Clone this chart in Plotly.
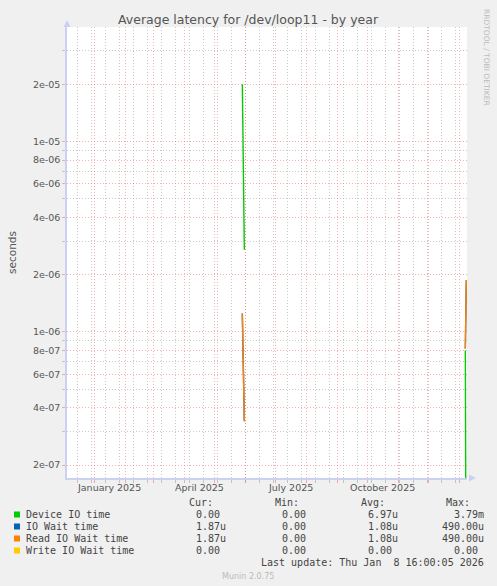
"""
Munin style "Average latency for /dev/loop11 - by year" chart drawn with Plotly.
"""
import pandas as pd
import plotly.graph_objs as go

# --- data ----------------------------------------------------------------
series_names = ["Device IO time", "IO Wait time", "Read IO Wait time", "Write IO Wait time"]
series_colors = ["#00CC00", "#0066B3", "#FF8000", "#FFCC00"]

sample_dates = ["2025-05-29", "2025-05-31", "2025-09-15", "2026-01-07", "2026-01-08"]
device_io = [2.0e-05, 2.7e-06, None, 8.0e-07, 0.0]
io_wait = [1.25e-06, 3.4e-07, None, 8.2e-07, 1.87e-06]
read_io_wait = [1.25e-06, 3.4e-07, None, 8.2e-07, 1.87e-06]
write_io_wait = [0.0, 0.0, None, 0.0, 0.0]

legend_cur = ["0.00", "1.87u", "1.87u", "0.00"]
legend_min = ["0.00", "0.00", "0.00", "0.00"]
legend_avg = ["6.97u", "1.08u", "1.08u", "0.00"]
legend_max = ["3.79m", "490.00u", "490.00u", "0.00"]

y_major = [2e-07, 4e-07, 6e-07, 8e-07, 1e-06, 2e-06, 4e-06, 6e-06, 8e-06, 1e-05, 2e-05]
y_major_text = ["2e-07", "4e-07", "6e-07", "8e-07", "1e-06", "2e-06",
                "4e-06", "6e-06", "8e-06", "1e-05", "2e-05"]
y_minor = [3e-07, 5e-07, 7e-07, 9e-07, 3e-06, 5e-06, 7e-06, 9e-06, 3e-05]

month_labels = ["January 2025", "April 2025", "July 2025", "October 2025"]
month_label_dates = ["2025-01-16", "2025-04-16", "2025-07-16", "2025-10-16"]

x_start, x_end = "2024-12-04 16:00", "2026-01-08 16:00"
y_low, y_high = -6.767, -4.398   # log10 range

# --- layout geometry (pixels) ----------------------------------------------
W, H = 497, 586
L, R, T, B = 67, 30, 27, 108
PW, PH = W - L - R, H - T - B


def px(x):
    """pixel x -> paper x"""
    return (x - L) / PW


def py(y):
    """pixel y -> paper y"""
    return (H - B - y) / PH


# values of 0 sit below the log axis, like rrdtool clips them at the bottom
floor = 10 ** (y_low - 1)


def clip(vals):
    return [None if v is None else (v if v > 0 else floor) for v in vals]


fig = go.Figure()

for name, color, vals in zip(series_names, series_colors,
                             [device_io, io_wait, read_io_wait, write_io_wait]):
    fig.add_trace(go.Scatter(x=pd.to_datetime(sample_dates), y=clip(vals), mode="lines",
                             name=name, line=dict(color=color, width=1.4),
                             connectgaps=False, showlegend=False, hoverinfo="skip"))

red_grid = "rgba(240,110,110,0.55)"
gray_grid = "rgba(150,150,150,0.5)"
dots = "1px,2px"
axis_col = "#CCD0F2"
text_col = "#555555"

fig.update_layout(
    width=W, height=H,
    margin=dict(l=L, r=R, t=T, b=B, pad=0),
    paper_bgcolor="#F0F0F0", plot_bgcolor="#FFFFFF",
    font=dict(family="DejaVu Sans", size=10, color=text_col),
    xaxis=dict(
        type="date", range=[x_start, x_end],
        tickmode="array",
        tickvals=pd.date_range("2025-01-01", "2026-01-01", freq="MS"),
        showticklabels=False,
        showgrid=True, gridcolor=red_grid, griddash=dots, gridwidth=1,
        ticks="outside", ticklen=3, tickcolor=red_grid,
        minor=dict(tickmode="array",
                   tickvals=pd.date_range("2024-12-15", "2026-01-08", freq="14D"),
                   showgrid=True, gridcolor=gray_grid, griddash=dots, gridwidth=1,
                   ticks="outside", ticklen=3, tickcolor=gray_grid),
        showline=True, linecolor=axis_col, linewidth=1.5,
        zeroline=False, fixedrange=True,
    ),
    yaxis=dict(
        type="log", range=[y_low, y_high],
        tickmode="array", tickvals=y_major, ticktext=y_major_text,
        tickfont=dict(size=9.5, color=text_col),
        showgrid=True, gridcolor=red_grid, griddash=dots, gridwidth=1,
        ticks="outside", ticklen=3, tickcolor=red_grid,
        minor=dict(tickmode="array", tickvals=y_minor,
                   showgrid=True, gridcolor=gray_grid, griddash=dots, gridwidth=1,
                   ticks="outside", ticklen=3, tickcolor=gray_grid),
        showline=True, linecolor=axis_col, linewidth=1.5,
        zeroline=False, fixedrange=True,
        title=dict(text="seconds", font=dict(size=10.5, color=text_col), standoff=14),
    ),
)

# axis arrows
fig.add_shape(type="path", xref="paper", yref="paper",
              path=f"M {px(63.5)} {py(27)} L {px(67)} {py(20)} L {px(70.5)} {py(27)} Z",
              fillcolor=axis_col, line=dict(width=0))
fig.add_shape(type="path", xref="paper", yref="paper",
              path=f"M {px(469)} {py(474.5)} L {px(476)} {py(478)} L {px(469)} {py(481.5)} Z",
              fillcolor=axis_col, line=dict(width=0))


def note(text, x, y, xanchor="center", font=None, **kw):
    """paper-positioned text given in pixel coordinates"""
    fig.add_annotation(text=text, xref="paper", yref="paper", x=px(x), y=py(y),
                       showarrow=False, xanchor=xanchor, yanchor="middle",
                       borderpad=0, borderwidth=0, font=font, **kw)


# title
note("Average latency for /dev/loop11 - by year", 248.5, 19.5,
     font=dict(size=12.5, color=text_col))

# rrdtool watermark
note("RRDTOOL / TOBI OETIKER", 487, 57, textangle=90,
     font=dict(size=7.5, color="#BBBBBB"))

# month labels under the x axis
for lab, d in zip(month_labels, month_label_dates):
    fig.add_annotation(text=lab, x=d, xref="x", y=py(487.5), yref="paper",
                       showarrow=False, xanchor="center", yanchor="middle",
                       font=dict(size=9.5, color=text_col))

# legend block (munin style, monospace)
mono = dict(family="DejaVu Sans Mono", size=10, color="#444444")
for head, xr in zip(["Cur:", "Min:", "Avg:", "Max:"], [212.5, 298.5, 384.5, 470.3]):
    note(head, xr, 502.5, xanchor="right", font=mono)

value_right = [226.0, 312.0, 398.0, 484.0]
for i, name in enumerate(series_names):
    yc = 514.5 + 12 * i
    fig.add_shape(type="rect", xref="paper", yref="paper",
                  x0=px(14), x1=px(20), y0=py(yc - 3), y1=py(yc + 3),
                  fillcolor=series_colors[i], line=dict(width=0))
    note(name, 26, yc, xanchor="left", font=mono)
    for col, xr in zip([legend_cur, legend_min, legend_avg, legend_max], value_right):
        v = col[i]
        if v[-1].isdigit():
            v = v + "\u00a0"
        note(v, xr, yc, xanchor="right", font=mono)

note("Last update: Thu Jan\u00a0 8 16:00:05 2026", 483.5, 562.5, xanchor="right", font=mono)

note("Munin 2.0.75", 248, 576, font=dict(size=8, color="#BBBBBB"))

# the page body has a default margin, drop it so the figure fills the window
fig.write_html("out.html", config={"displayModeBar": False},
               post_script="document.body.style.margin='0';")
